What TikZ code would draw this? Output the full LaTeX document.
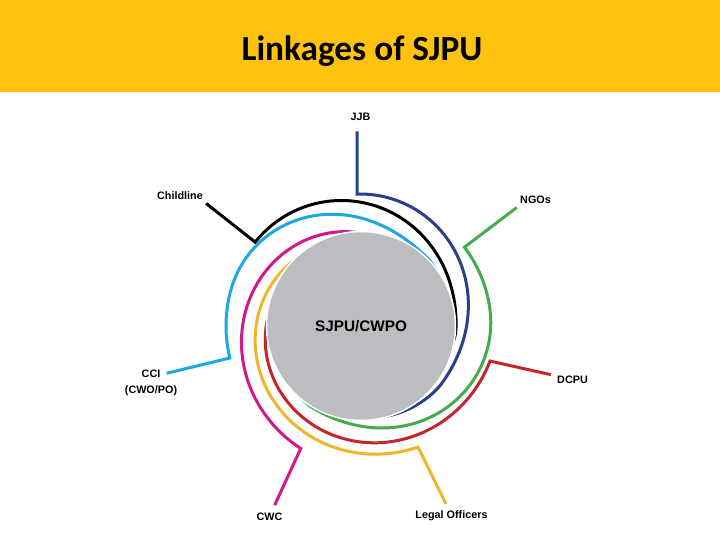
\documentclass[tikz,border=0pt]{standalone}
\usepackage{fontspec}
\setmainfont{Liberation Sans}
\newfontfamily\titlefont{Carlito}
\definecolor{band}{HTML}{FFC20E}
\definecolor{hubgray}{HTML}{BCBDC0}
\definecolor{cnavy}{HTML}{2B3E8E}
\definecolor{cgreen}{HTML}{45AB4B}
\definecolor{cred}{HTML}{C3262E}
\definecolor{cyell}{HTML}{F1B52A}
\definecolor{cmag}{HTML}{D3178C}
\definecolor{ccyan}{HTML}{1EA8DF}

\begin{document}
\begin{tikzpicture}[x=1pt,y=-1pt,
    lb/.style={font=\fontsize{10.8}{12}\selectfont\bfseries,anchor=base,outer sep=3pt},
    sp/.style={line width=3pt},
    % radius along a link: flat, eased drop to rm, then a short tail into the hub
    declare function={spc(\qa,\qb,\qc,\qd,\qe,\qf,\qg)=\qc+(\qb-\qc)*(1+cos(180*min(max((\qa-\qd)/(\qe-\qd),0),1)))/2-(\qc-\qf)*max(0,(\qa-\qe)/(\qg-\qe));}]
  \useasboundingbox (0,0) rectangle (720,540);
  \fill[white] (0,0) rectangle (720,540);
  \fill[band] (0,0) rectangle (720,92);
  \node[anchor=base,font=\titlefont\bfseries\fontsize{35.3}{40}\selectfont] (title) at (362,61) {Linkages of SJPU};
  \coordinate (ctr) at (361,326);
  % labels round the hub
  \node[lb,outer sep=7pt] (jjb) at (360.5,121) {JJB};
  \node[lb,outer sep=0pt] (cl) at (180,200) {Childline};
  \node[lb,outer sep=0pt] (ngo) at (535.5,204) {NGOs};
  \node[lb] (cci) at (151,377) {CCI};
  \node[lb,outer sep=0pt] (cwopo) at ([yshift=-16pt]cci.base) {(CWO/PO)};
  \node[lb,outer sep=4pt] (cwc) at (269.5,520) {CWC};
  \node[lb] (legal) at (451.5,518) {Legal Officers};
  \node[lb] (dcpu) at (572.5,383) {DCPU};
  % spiral links, polar round the hub
  \begin{scope}[shift={(ctr)},yscale=-1]
    \foreach \n/\a/\r in {jjb/91.7/132,cl/141.6/135,ngo/37.3/130,cci/193.7/135,cwc/243.8/136.5,legal/-64.8/133.7,dcpu/-15.2/133.7}
      \coordinate (k-\n) at (\a:\r);
    \draw[sp,cnavy] (jjb.south -| k-jjb) -- (k-jjb) -- plot[domain=0.5:178,samples=90,variable=\q] ({91.7-\q}:{spc(\q,132,99,0,130,92,178)});
    \draw[sp,black] (cl.south east) -- (k-cl) -- plot[domain=0.5:160,samples=90,variable=\q] ({141.6-\q}:{spc(\q,135,95,0,145,92,160)});
    \draw[sp,cgreen] (ngo.south west) -- (k-ngo) -- plot[domain=0.5:175,samples=90,variable=\q] ({37.3-\q}:{spc(\q,130,95,30,160,92,175)});
    \draw[sp,ccyan] (cci.east) -- (k-cci) -- plot[domain=0.5:165,samples=90,variable=\q] ({193.7-\q}:{spc(\q,135,95,30,150,92,165)});
    \draw[sp,cmag] (cwc.65) -- (k-cwc) -- plot[domain=0.5:158,samples=90,variable=\q] ({243.8-\q}:{136.5-0.283*\q});
    \draw[sp,cyell] (legal.116) -- (k-legal) -- plot[domain=0.5:167,samples=90,variable=\q] ({-64.8-\q}:{133.7-0.25*\q});
    \draw[sp,cred] (dcpu.168) -- (k-dcpu) -- plot[domain=0.5:176,samples=90,variable=\q] ({-15.2-\q}:{133.7-0.236*\q});
  \end{scope}
  \node[circle,minimum size=189pt,inner sep=0pt,fill=hubgray,draw=white,line width=1.5pt,
    font=\fontsize{15.3}{18}\selectfont\bfseries] (hub) at (ctr) {SJPU/CWPO};
\end{tikzpicture}
\end{document}
